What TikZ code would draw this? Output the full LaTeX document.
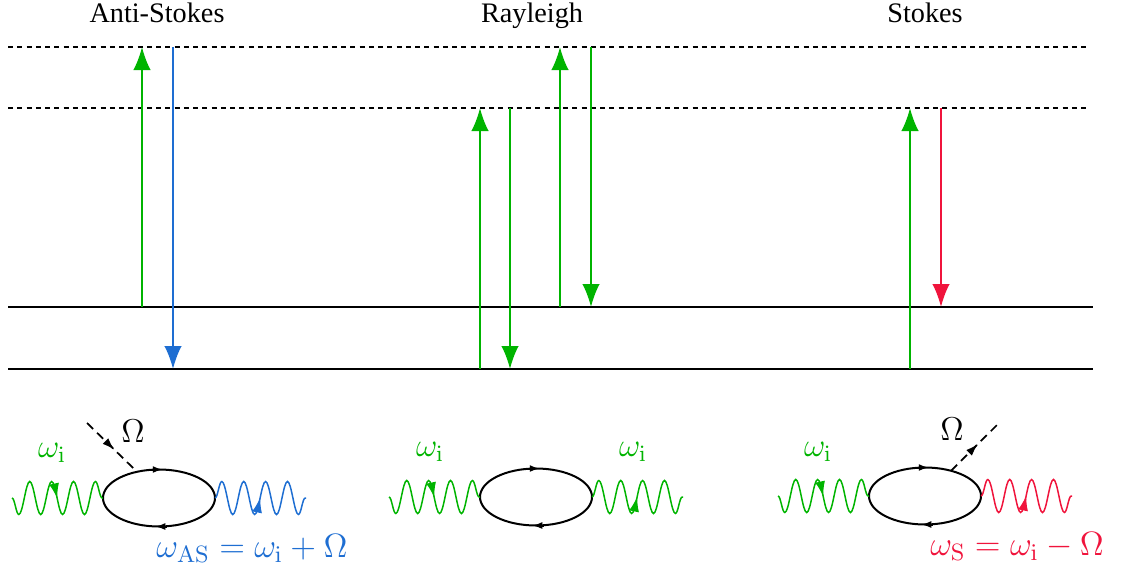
\RequirePackage{fix-cm}
\documentclass[tikz,border=0pt,12pt]{standalone}
\usepackage[no-math]{fontspec}
\setmainfont{Liberation Serif}
\usepackage{tikz}
\usetikzlibrary{arrows.meta,positioning,calc,shapes.geometric,decorations.pathmorphing,decorations.markings}
\definecolor{pumpgreen}{RGB}{0,180,0}
\definecolor{asblue}{RGB}{30,110,210}
\definecolor{stred}{RGB}{240,20,60}
\tikzset{
  levelline/.style={line width=0.6pt},
  virtualline/.style={line width=0.6pt,dash pattern=on 2pt off 1.7pt},
  transition/.style={-{Latex[length=9.2pt,width=7pt]},line width=0.8pt},
  bubble/.style={ellipse,draw,line width=0.8pt,minimum width=44.8pt,
    minimum height=22.8pt,inner sep=0pt,outer sep=0pt},
  looptip/.style={-{Latex[length=4pt,width=2.8pt]},line width=0.8pt},
  photon/.style={line width=0.6pt,decorate,
    decoration={snake,amplitude=6.6pt,segment length=8.75pt},
    postaction={decorate,decoration={markings,
      mark=at position 0.5 with {\arrow{Latex[length=6pt,width=4pt]}}}}},
  photonin/.style={photon,decoration={mirror}},
  phonon/.style={line width=0.7pt,dash pattern=on 3.4pt off 2.2pt,
    postaction={decorate,decoration={markings,
      mark=at position 0.55 with {\arrow{Latex[length=5pt,width=3.2pt]}}}}},
  titlelabel/.style={font=\fontsize{11.3}{14}\selectfont,anchor=base},
  freqlabel/.style={font=\fontsize{13.2}{16}\selectfont},
  shiftlabel/.style={font=\fontsize{13.5}{16}\selectfont,anchor=base}
}

\begin{document}
\begin{tikzpicture}[x=0.4pt,y=-0.4pt]
  \useasboundingbox (0,0) rectangle (1122,574);
  % energy levels
  \coordinate (v2) at (0,47);
  \coordinate (v1) at (0,108);
  \coordinate (g1) at (0,307);
  \coordinate (g0) at (0,369);
  \foreach \lev in {v2,v1}
    \draw[virtualline] (8,0 |- \lev) -- (1090,0 |- \lev);
  \foreach \lev in {g1,g0}
    \draw[levelline] (8,0 |- \lev) -- (1093,0 |- \lev);
  \node[titlelabel] (astitle) at (157,22) {Anti-Stokes};
  \node[titlelabel] (ratitle) at (532,22) {Rayleigh};
  \node[titlelabel] (sttitle) at (925,22) {Stokes};
  % transitions
  \foreach \x/\from/\to/\col in {142/g1/v2/pumpgreen,173/v2/g0/asblue,
      480/g0/v1/pumpgreen,510/v1/g0/pumpgreen,560/g1/v2/pumpgreen,
      591/v2/g1/pumpgreen,910/g0/v1/pumpgreen,941/v1/g1/stred}
    \draw[transition,\col] (\x,0 |- \from) -- (\x,0 |- \to);
  % diagrams
  \node[bubble] (as) at (159,498) {};
  \node[bubble] (ra) at (536,497) {};
  \node[bubble] (st) at (925,496) {};
  \foreach \lp in {as,ra,st}{
    \draw[looptip] ([xshift=-3pt]\lp.north) -- ([xshift=1.5pt]\lp.north);
    \draw[looptip] ([xshift=3pt]\lp.south) -- ([xshift=-1.5pt]\lp.south);
  }
  \coordinate (asl) at (12,498);
  \coordinate (asr) at (306,498);
  \coordinate (ral) at (389,497);
  \coordinate (rar) at (683,497);
  \coordinate (stl) at (778,496);
  \coordinate (str) at (1072,496);
  \draw[photonin,pumpgreen] (asl) -- (as.west);
  \draw[photon,asblue] (as.east) -- (asr);
  \draw[photonin,pumpgreen] (ral) -- (ra.west);
  \draw[photon,pumpgreen] (ra.east) -- (rar);
  \draw[photonin,pumpgreen] (stl) -- (st.west);
  \draw[photon,stred] (st.east) -- (str);
  \coordinate (asph) at (87,423);
  \coordinate (stph) at (1000,422);
  \draw[phonon] (asph) -- (as.130);
  \draw[phonon] (st.44) -- (stph);
  % labels
  \node[freqlabel,text=pumpgreen] (aswi) at (52,453) {$\omega_{\mathrm{i}}$};
  \node[freqlabel,anchor=base] (asom) at (133,442) {$\Omega$};
  \node[shiftlabel,text=asblue] (aswo) at (252,557)
    {$\omega_{\mathrm{AS}} = \omega_{\mathrm{i}} + \Omega$};
  \node[freqlabel,text=pumpgreen] (rawi) at (430,452) {$\omega_{\mathrm{i}}$};
  \node[freqlabel,text=pumpgreen] (rawo) at (633,452) {$\omega_{\mathrm{i}}$};
  \node[freqlabel,text=pumpgreen] (stwi) at (818,452) {$\omega_{\mathrm{i}}$};
  \node[freqlabel,anchor=base] (stom) at (952,440) {$\Omega$};
  \node[shiftlabel,text=stred] (stwo) at (1017,555)
    {$\omega_{\mathrm{S}} = \omega_{\mathrm{i}} - \Omega$};
\end{tikzpicture}
\end{document}
